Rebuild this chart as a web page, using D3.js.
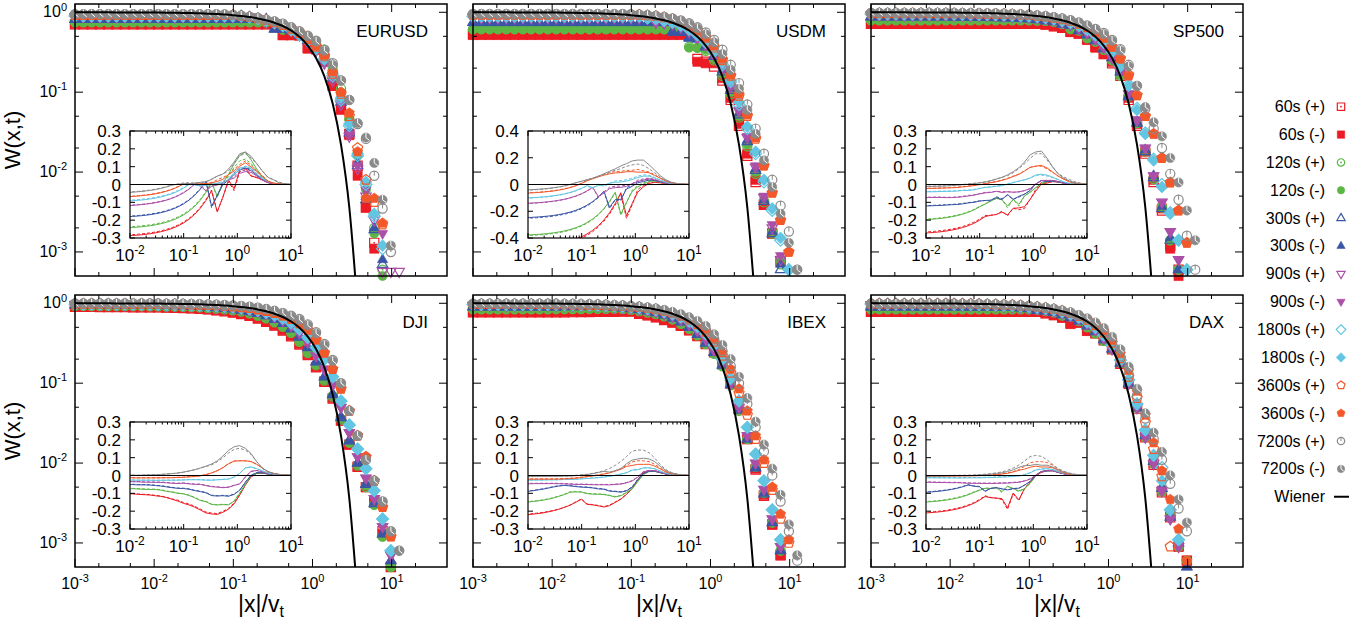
<!DOCTYPE html>
<html>
<head>
<meta charset="utf-8">
<script src="https://cdn.jsdelivr.net/npm/d3@7"></script>
<style>
body { margin: 0; background: #fff; }
svg { font-family: "Liberation Sans", Arial, Helvetica, sans-serif; }
</style>
</head>
<body>
<svg width="1365" height="627"></svg>
<script>
// x positions of the bins (|x|/v_t), shared by every series
var gridX = [0.001,0.001274,0.001622,0.002065,0.00263,0.00335,0.004266,0.00543,0.00692,0.00881,
  0.01122,0.01429,0.0182,0.02317,0.02951,0.03758,0.04786,0.06095,0.07762,0.09886,
  0.1259,0.1603,0.2042,0.26,0.3311,0.4217,0.537,0.6839,0.871,1.109,
  1.413,1.799,2.291,2.917,3.715,4.732,6.026,7.674,9.772,12.45];

// Wiener curve read at the same x positions
var wiener = [.9992,.999,.9987,.9984,.9979,.9973,.9966,.9957,.9945,.993,
  .991,.9886,.9855,.9815,.9765,.97,.9618,.9514,.9381,.9212,
  .8998,.8727,.8382,.7949,.7406,.6732,.5913,.4942,.3838,.2674,
  .1576,.072,.022,.0036,.0002];

var seriesLabels = ['60s (+)','60s (-)','120s (+)','120s (-)','300s (+)','300s (-)','900s (+)','900s (-)',
  '1800s (+)','1800s (-)','3600s (+)','3600s (-)','7200s (+)','7200s (-)'];
var seriesColors = ['#ed1c24','#5cb646','#3a55a5','#ab4fa8','#62c6e2','#f3582a','#8a8a8a'];
var panelNames = ['EURUSD','USDM','SP500','DJI','IBEX','DAX'];
var insetYMax = [0.3,0.4,0.3,0.3,0.3,0.3];
var insetYStep = [0.1,0.2,0.1,0.1,0.1,0.1];
var xTickExps = [-3,-2,-1,0,1];
var yTickExps = [0,-1,-2,-3];
var insetXExps = [-2,-1,0,1];

// W(x,t), one row per series in legend order
var EURUSD = [
  [.705,.705,.705,.705,.705,.705,.705,.705,.705,.705,.705,.705,.705,.705,.705,.705,.705,.705,.705,.705,.705,.705,.705,.705,.705,.52,.52,.52,.36,.35,.25,.12,.062,.03,.012,.0036,.0013],
  [.71,.71,.71,.71,.71,.71,.71,.71,.71,.71,.71,.71,.71,.71,.71,.71,.71,.71,.71,.71,.71,.71,.71,.71,.71,.52,.52,.51,.35,.34,.24,.12,.06,.029,.009,.0036,.0011],
  [.75,.75,.75,.75,.75,.75,.75,.75,.75,.75,.75,.75,.75,.75,.75,.75,.75,.75,.75,.75,.75,.75,.75,.75,.75,.61,.60,.55,.50,.43,.34,.21,.11,.046,.017,.0065,.002,.0006],
  [.755,.755,.755,.755,.755,.755,.755,.755,.755,.755,.755,.755,.755,.755,.755,.755,.755,.755,.755,.755,.755,.755,.755,.755,.755,.60,.60,.54,.48,.40,.30,.19,.10,.045,.016,.006,.0017,.0005],
  [.812,.812,.812,.812,.812,.812,.812,.812,.812,.812,.812,.812,.812,.812,.812,.812,.812,.812,.812,.812,.812,.812,.812,.812,.62,.61,.59,.52,.44,.35,.25,.15,.075,.031,.012,.0045,.0019,.0007],
  [.815,.815,.815,.815,.815,.815,.815,.815,.815,.815,.815,.815,.815,.815,.815,.815,.815,.815,.815,.815,.815,.815,.815,.815,.61,.61,.60,.52,.45,.36,.25,.16,.08,.033,.013,.0049,.002,.0008],
  [.874,.874,.874,.874,.874,.874,.874,.874,.874,.874,.874,.874,.874,.874,.874,.874,.874,.874,.874,.874,.874,.874,.83,.76,.73,.67,.60,.52,.42,.33,.23,.14,.07,.028,.011,.005,.0025,.00057,.00057,.00057],
  [.876,.876,.876,.876,.876,.876,.876,.876,.876,.876,.876,.876,.876,.876,.876,.876,.876,.876,.876,.876,.876,.876,.84,.76,.74,.68,.60,.52,.43,.34,.24,.15,.075,.03,.012,.006,.0029,.0017],
  [.90,.90,.90,.90,.90,.90,.90,.90,.90,.90,.90,.90,.90,.90,.90,.90,.90,.90,.90,.90,.90,.87,.83,.79,.74,.68,.60,.52,.44,.35,.26,.16,.08,.038,.016,.007,.0028,.0011],
  [.904,.904,.904,.904,.904,.904,.904,.904,.904,.904,.904,.904,.904,.904,.904,.904,.904,.904,.904,.904,.904,.875,.84,.80,.745,.68,.61,.53,.45,.36,.26,.17,.085,.04,.017,.0075,.003,.0012],
  [.924,.924,.924,.924,.924,.924,.924,.924,.924,.924,.924,.924,.924,.924,.924,.924,.924,.924,.924,.924,.90,.875,.84,.80,.75,.69,.62,.55,.46,.37,.28,.17,.095,.05,.02,.008,.0042,.0022],
  [.926,.926,.926,.926,.926,.926,.926,.926,.926,.926,.926,.926,.926,.926,.926,.926,.926,.926,.926,.926,.905,.88,.845,.80,.75,.70,.63,.55,.47,.38,.29,.18,.10,.055,.018,.0047,.0047,.0023],
  [.948,.948,.948,.948,.948,.948,.948,.948,.948,.948,.948,.948,.948,.948,.948,.948,.948,.948,.94,.925,.905,.88,.85,.81,.77,.72,.65,.58,.51,.44,.34,.23,.14,.08,.04,.026,.009,.0035,.001],
  [.95,.95,.95,.95,.95,.95,.95,.95,.95,.95,.95,.95,.95,.95,.95,.95,.95,.95,.94,.93,.91,.88,.85,.81,.77,.72,.65,.57,.50,.43,.33,.22,.14,.08,.041,.027,.013,.0045,.0012]
];

var USDM = [
  [.53,.53,.53,.53,.53,.53,.53,.53,.53,.53,.53,.53,.53,.53,.53,.53,.53,.53,.53,.53,.53,.53,.53,.53,.53,.53,.53,.26,.24,.21,.14,.08,.038,.016,.0075,.0039,.0017,.00077],
  [.52,.52,.52,.52,.52,.52,.52,.52,.52,.52,.52,.52,.52,.52,.52,.52,.52,.52,.52,.52,.52,.52,.52,.52,.52,.52,.52,.24,.23,.23,.15,.085,.04,.017,.008,.0039,.0017,.00077],
  [.615,.615,.615,.615,.615,.615,.615,.615,.615,.615,.615,.615,.615,.615,.615,.615,.615,.615,.615,.615,.615,.615,.615,.615,.615,.615,.37,.36,.33,.25,.16,.095,.048,.021,.0095,.0042,.0017,.0007],
  [.61,.61,.61,.61,.61,.61,.61,.61,.61,.61,.61,.61,.61,.61,.61,.61,.61,.61,.61,.61,.61,.61,.61,.61,.61,.61,.36,.36,.34,.26,.17,.10,.05,.022,.010,.0045,.0018,.0008],
  [.745,.745,.745,.745,.745,.745,.745,.745,.745,.745,.745,.745,.745,.745,.745,.745,.745,.745,.745,.745,.745,.745,.745,.745,.57,.56,.48,.46,.37,.28,.18,.105,.052,.024,.0105,.0043,.0017,.0006],
  [.74,.74,.74,.74,.74,.74,.74,.74,.74,.74,.74,.74,.74,.74,.74,.74,.74,.74,.74,.74,.74,.74,.74,.74,.56,.56,.47,.47,.38,.29,.19,.11,.055,.025,.011,.0045,.0018,.0007],
  [.852,.852,.852,.852,.852,.852,.852,.852,.852,.852,.852,.852,.852,.852,.852,.852,.852,.852,.852,.852,.852,.852,.75,.73,.71,.65,.57,.48,.39,.29,.19,.115,.058,.027,.0115,.0048,.002,.0008],
  [.85,.85,.85,.85,.85,.85,.85,.85,.85,.85,.85,.85,.85,.85,.85,.85,.85,.85,.85,.85,.85,.85,.74,.74,.72,.66,.58,.49,.39,.30,.20,.12,.06,.028,.012,.005,.0022,.0009],
  [.892,.892,.892,.892,.892,.892,.892,.892,.892,.892,.892,.892,.892,.892,.892,.892,.892,.892,.892,.892,.892,.85,.83,.79,.75,.69,.61,.52,.42,.32,.22,.135,.07,.035,.017,.0075,.0033,.0014,.0006],
  [.89,.89,.89,.89,.89,.89,.89,.89,.89,.89,.89,.89,.89,.89,.89,.89,.89,.89,.89,.89,.89,.84,.84,.78,.75,.70,.62,.53,.43,.33,.23,.14,.075,.037,.018,.008,.0035,.0015,.0006],
  [.928,.928,.928,.928,.928,.928,.928,.928,.928,.928,.928,.928,.928,.928,.928,.928,.928,.928,.928,.928,.928,.915,.895,.865,.82,.76,.68,.59,.48,.36,.25,.16,.09,.05,.026,.012,.0055,.0025,.001],
  [.93,.93,.93,.93,.93,.93,.93,.93,.93,.93,.93,.93,.93,.93,.93,.93,.93,.93,.93,.93,.93,.92,.90,.87,.83,.77,.69,.60,.49,.38,.26,.165,.095,.052,.027,.012,.0055,.0025,.001],
  [.952,.952,.952,.952,.952,.952,.952,.952,.952,.952,.952,.952,.952,.952,.952,.952,.952,.952,.952,.945,.935,.92,.90,.875,.84,.79,.73,.65,.56,.45,.34,.22,.13,.07,.035,.017,.008,.0038,.0018,.0006],
  [.95,.95,.95,.95,.95,.95,.95,.95,.95,.95,.95,.95,.95,.95,.95,.95,.95,.95,.95,.945,.935,.92,.90,.87,.83,.78,.71,.63,.53,.42,.30,.19,.11,.06,.03,.014,.0065,.003,.0013,.0006]
];

var SP500 = [
  [.72,.72,.72,.72,.72,.72,.72,.72,.72,.72,.72,.72,.72,.72,.72,.72,.72,.72,.72,.72,.72,.70,.67,.64,.57,.54,.46,.37,.30,.23,.16,.08,.038,.017,.0075,.0033,.0012,.0006],
  [.726,.726,.726,.726,.726,.726,.726,.726,.726,.726,.726,.726,.726,.726,.726,.726,.726,.726,.726,.726,.726,.70,.67,.645,.565,.54,.45,.36,.30,.24,.17,.085,.04,.018,.008,.0035,.0011,.0005],
  [.795,.795,.795,.795,.795,.795,.795,.795,.795,.795,.795,.795,.795,.795,.795,.795,.795,.795,.795,.795,.79,.78,.76,.71,.62,.59,.48,.43,.34,.25,.16,.088,.041,.018,.0082,.0036,.0014,.0006],
  [.798,.798,.798,.798,.798,.798,.798,.798,.798,.798,.798,.798,.798,.798,.798,.798,.798,.798,.798,.798,.79,.78,.76,.71,.61,.59,.47,.43,.34,.25,.165,.09,.042,.019,.0085,.0037,.0014,.0006],
  [.873,.873,.873,.873,.873,.873,.873,.873,.873,.873,.871,.87,.868,.866,.863,.858,.853,.848,.838,.828,.81,.785,.765,.71,.685,.59,.525,.44,.35,.27,.18,.088,.041,.018,.0085,.0035,.0014,.0006],
  [.875,.875,.875,.875,.875,.875,.875,.875,.875,.875,.873,.872,.87,.868,.865,.86,.855,.85,.84,.83,.81,.78,.77,.715,.68,.59,.52,.44,.35,.27,.18,.09,.042,.019,.009,.0037,.0015,.0006],
  [.918,.918,.918,.918,.918,.918,.918,.918,.918,.918,.918,.916,.913,.908,.903,.898,.893,.887,.878,.868,.853,.828,.80,.75,.70,.63,.55,.46,.36,.27,.18,.095,.045,.02,.009,.0042,.0018,.0008],
  [.92,.92,.92,.92,.92,.92,.92,.92,.92,.92,.92,.918,.915,.91,.905,.90,.895,.89,.88,.87,.855,.83,.80,.755,.70,.63,.55,.46,.36,.27,.18,.095,.045,.02,.009,.0042,.0018,.0008],
  [.952,.952,.952,.952,.952,.952,.952,.952,.952,.952,.95,.948,.946,.943,.938,.933,.928,.918,.908,.898,.883,.858,.828,.788,.743,.683,.61,.52,.42,.32,.215,.125,.063,.031,.0145,.007,.0031,.0014,.0006],
  [.955,.955,.955,.955,.955,.955,.955,.955,.955,.955,.952,.95,.948,.945,.94,.935,.93,.92,.91,.90,.885,.86,.83,.79,.745,.685,.61,.52,.42,.32,.21,.12,.06,.03,.014,.0065,.003,.0014,.0006],
  [.972,.972,.972,.972,.972,.972,.972,.972,.972,.972,.969,.967,.965,.962,.958,.953,.948,.941,.932,.92,.903,.883,.853,.818,.773,.718,.648,.57,.48,.37,.265,.165,.092,.05,.03,.015,.0074,.0033,.0013],
  [.975,.975,.975,.975,.975,.975,.975,.975,.975,.975,.97,.968,.966,.963,.96,.955,.95,.943,.934,.922,.905,.885,.855,.82,.775,.72,.65,.57,.48,.37,.26,.16,.09,.05,.03,.015,.0074,.0033,.0013],
  [.983,.983,.983,.983,.983,.983,.983,.983,.983,.983,.98,.978,.976,.973,.97,.966,.96,.953,.943,.93,.913,.893,.868,.835,.795,.745,.685,.62,.55,.45,.345,.22,.12,.062,.035,.02,.0095,.0045,.0016,.0006],
  [.985,.985,.985,.985,.985,.985,.985,.985,.985,.985,.982,.98,.978,.975,.972,.968,.962,.955,.945,.932,.915,.895,.87,.835,.79,.74,.68,.61,.53,.44,.33,.21,.12,.065,.042,.028,.015,.0074,.0033,.0014]
];

var DJI = [
  [.905,.905,.902,.90,.90,.898,.896,.894,.892,.89,.888,.883,.878,.872,.863,.853,.838,.818,.795,.765,.735,.695,.645,.585,.525,.455,.385,.305,.225,.158,.104,.064,.034,.017,.009,.005,.0032,.0014,.0005],
  [.91,.91,.905,.905,.90,.90,.90,.895,.895,.89,.89,.885,.88,.875,.865,.855,.84,.82,.80,.77,.74,.70,.65,.59,.53,.46,.39,.31,.23,.16,.105,.065,.034,.017,.009,.005,.0033,.0013,.0005],
  [.928,.927,.926,.925,.924,.923,.922,.921,.92,.918,.917,.913,.908,.903,.898,.888,.873,.858,.838,.818,.788,.748,.698,.648,.578,.508,.428,.33,.24,.168,.108,.068,.035,.018,.0093,.005,.003,.0012,.0005],
  [.93,.929,.928,.927,.926,.925,.924,.923,.922,.92,.919,.915,.91,.905,.90,.89,.875,.86,.84,.82,.79,.75,.70,.65,.58,.51,.43,.33,.24,.17,.11,.07,.036,.018,.0095,.0052,.003,.0012,.0005],
  [.953,.953,.952,.951,.95,.949,.948,.946,.944,.942,.94,.936,.933,.928,.92,.911,.898,.883,.866,.848,.823,.788,.748,.698,.628,.558,.478,.378,.278,.185,.12,.072,.037,.019,.01,.0054,.0031,.0013,.0006],
  [.955,.955,.954,.953,.952,.951,.95,.948,.946,.944,.942,.938,.935,.93,.922,.913,.90,.885,.868,.85,.825,.79,.75,.70,.63,.56,.48,.38,.28,.185,.12,.073,.038,.019,.01,.0055,.0032,.0013,.0006],
  [.968,.968,.968,.968,.968,.967,.966,.965,.963,.96,.956,.953,.948,.944,.938,.931,.921,.908,.893,.878,.853,.823,.788,.738,.678,.608,.523,.428,.328,.22,.15,.095,.05,.024,.012,.0065,.0036,.0016,.0007],
  [.97,.97,.97,.97,.97,.969,.968,.967,.965,.962,.958,.955,.95,.946,.94,.933,.923,.91,.895,.88,.855,.825,.79,.74,.68,.61,.525,.43,.33,.22,.15,.095,.05,.024,.012,.0065,.0036,.0016,.0007],
  [.974,.974,.974,.974,.974,.973,.972,.971,.969,.967,.965,.962,.959,.955,.949,.943,.935,.925,.912,.896,.876,.849,.814,.769,.714,.649,.569,.474,.375,.28,.2,.12,.06,.03,.015,.0085,.0045,.002,.0008],
  [.975,.975,.975,.975,.975,.974,.973,.972,.97,.968,.966,.963,.96,.956,.95,.944,.936,.926,.913,.897,.877,.85,.815,.77,.715,.65,.57,.475,.375,.28,.2,.12,.06,.03,.015,.0085,.0045,.002,.0008],
  [.987,.987,.987,.987,.987,.986,.985,.984,.983,.981,.978,.975,.972,.968,.963,.957,.949,.939,.927,.911,.892,.867,.836,.80,.755,.70,.635,.56,.465,.35,.24,.15,.085,.045,.022,.012,.006,.0028,.0012],
  [.988,.988,.988,.988,.988,.987,.986,.985,.984,.982,.979,.976,.973,.969,.964,.958,.95,.94,.928,.912,.893,.868,.837,.80,.755,.70,.635,.56,.465,.35,.24,.15,.085,.045,.022,.012,.006,.0028,.0012],
  [.999,.999,.999,.999,.999,.999,.999,.999,.999,.995,.993,.99,.988,.985,.981,.976,.97,.962,.952,.94,.925,.905,.88,.847,.805,.755,.70,.635,.545,.435,.31,.195,.10,.045,.022,.011,.006,.0033,.0014,.0008],
  [.999,.999,.999,.999,.999,.999,.999,.999,.999,.995,.993,.99,.988,.985,.981,.976,.97,.962,.952,.94,.925,.905,.88,.845,.80,.75,.69,.62,.53,.42,.30,.19,.10,.045,.022,.011,.006,.0033,.0014,.0008]
];

var IBEX = [
  [.772,.772,.772,.772,.772,.772,.772,.772,.772,.772,.773,.774,.775,.777,.779,.781,.783,.785,.788,.788,.738,.708,.668,.618,.572,.522,.458,.388,.308,.243,.172,.098,.047,.02,.0083,.0039,.0017,.0007],
  [.776,.776,.776,.776,.776,.776,.776,.776,.776,.776,.776,.777,.778,.779,.78,.782,.784,.786,.79,.79,.74,.71,.67,.62,.575,.525,.46,.39,.31,.245,.175,.10,.048,.02,.0085,.004,.0017,.0007],
  [.843,.843,.843,.843,.843,.843,.843,.843,.843,.843,.844,.845,.846,.848,.85,.853,.855,.858,.846,.828,.798,.768,.733,.688,.628,.553,.478,.398,.308,.233,.163,.094,.045,.02,.009,.0042,.0018,.0008],
  [.846,.846,.846,.846,.846,.846,.846,.846,.846,.846,.846,.847,.848,.85,.852,.855,.857,.86,.848,.83,.80,.77,.735,.69,.63,.555,.48,.40,.31,.235,.165,.095,.046,.02,.009,.0042,.0018,.0008],
  [.903,.903,.903,.903,.903,.903,.903,.903,.903,.903,.904,.906,.908,.91,.912,.911,.906,.893,.876,.856,.833,.803,.763,.718,.653,.583,.498,.408,.318,.243,.168,.096,.046,.02,.0087,.0041,.0018,.0008],
  [.905,.905,.905,.905,.905,.905,.905,.905,.905,.905,.906,.908,.91,.912,.914,.913,.908,.895,.878,.858,.835,.805,.765,.72,.655,.585,.50,.41,.32,.245,.17,.097,.047,.02,.0088,.0042,.0018,.0008],
  [.946,.946,.946,.946,.946,.946,.946,.946,.946,.946,.945,.943,.94,.936,.931,.924,.915,.903,.888,.871,.849,.821,.786,.743,.688,.623,.543,.453,.353,.258,.178,.099,.05,.022,.01,.0047,.002,.0009],
  [.948,.948,.948,.948,.948,.948,.948,.948,.948,.948,.947,.945,.942,.938,.933,.926,.917,.905,.89,.873,.851,.823,.788,.745,.69,.625,.545,.455,.355,.26,.18,.10,.05,.022,.01,.0047,.002,.0009],
  [.967,.967,.967,.967,.967,.967,.967,.967,.967,.967,.965,.963,.96,.957,.952,.946,.939,.929,.917,.902,.883,.858,.826,.786,.736,.674,.599,.509,.414,.30,.2,.115,.06,.028,.013,.006,.0026,.0011],
  [.968,.968,.968,.968,.968,.968,.968,.968,.968,.968,.966,.964,.961,.958,.953,.947,.94,.93,.918,.903,.884,.859,.827,.787,.737,.675,.60,.51,.415,.30,.2,.115,.06,.028,.013,.006,.0026,.0011],
  [.973,.973,.973,.973,.973,.973,.973,.973,.973,.973,.97,.968,.965,.961,.956,.95,.943,.934,.923,.91,.893,.87,.84,.803,.755,.698,.626,.545,.44,.33,.22,.135,.075,.04,.02,.01,.0046,.002,.001],
  [.975,.975,.975,.975,.975,.975,.975,.975,.975,.975,.972,.97,.967,.963,.958,.952,.945,.936,.925,.912,.895,.872,.842,.805,.757,.70,.63,.55,.46,.35,.24,.15,.085,.045,.022,.011,.005,.0023,.0011],
  [.986,.986,.986,.986,.986,.986,.986,.986,.986,.986,.985,.983,.98,.976,.971,.965,.958,.948,.937,.923,.905,.883,.855,.818,.76,.70,.63,.56,.47,.36,.255,.165,.10,.055,.028,.014,.007,.0033,.0014,.0006],
  [.988,.988,.988,.988,.988,.988,.988,.988,.988,.988,.987,.985,.982,.978,.973,.967,.96,.95,.939,.925,.907,.885,.857,.822,.78,.73,.67,.60,.52,.41,.30,.20,.12,.065,.033,.017,.0085,.004,.0017,.0007]
];

var DAX = [
  [.782,.782,.782,.782,.782,.782,.782,.782,.782,.782,.782,.782,.782,.782,.782,.782,.782,.782,.782,.782,.782,.748,.712,.665,.56,.575,.455,.42,.345,.265,.175,.098,.048,.021,.0095,.0043,.0021,.0009,.0006],
  [.786,.786,.786,.786,.786,.786,.786,.786,.786,.786,.786,.786,.786,.786,.786,.786,.786,.786,.786,.786,.786,.75,.71,.66,.55,.57,.45,.42,.35,.27,.18,.10,.05,.022,.01,.0045,.0022,.0009,.0006],
  [.843,.843,.843,.843,.843,.843,.843,.843,.843,.843,.843,.843,.843,.843,.843,.843,.843,.843,.843,.838,.828,.80,.77,.705,.68,.60,.505,.42,.34,.265,.178,.098,.049,.021,.0098,.0044,.0021,.0009,.0006],
  [.846,.846,.846,.846,.846,.846,.846,.846,.846,.846,.846,.846,.846,.846,.846,.846,.846,.846,.846,.84,.83,.80,.77,.70,.68,.60,.50,.42,.34,.27,.18,.10,.05,.022,.01,.0045,.0022,.0009,.0006],
  [.898,.898,.898,.898,.898,.898,.898,.898,.898,.898,.898,.898,.898,.898,.898,.898,.898,.898,.878,.858,.812,.80,.77,.72,.66,.60,.52,.44,.35,.268,.178,.098,.049,.022,.0105,.0048,.0021,.001,.0005],
  [.90,.90,.90,.90,.90,.90,.90,.90,.90,.90,.90,.90,.90,.90,.90,.90,.90,.90,.88,.86,.81,.80,.77,.72,.66,.60,.52,.44,.35,.27,.18,.10,.05,.023,.011,.005,.0022,.001,.0005],
  [.955,.955,.955,.955,.955,.955,.955,.955,.955,.955,.953,.95,.946,.942,.936,.93,.92,.908,.894,.877,.855,.828,.794,.752,.698,.633,.553,.463,.363,.268,.178,.099,.049,.021,.0098,.0045,.002,.0009],
  [.957,.957,.957,.957,.957,.957,.957,.957,.957,.957,.955,.952,.948,.944,.938,.932,.922,.91,.896,.879,.857,.83,.796,.754,.70,.635,.555,.465,.365,.27,.18,.10,.05,.022,.01,.0046,.002,.0009],
  [.98,.98,.98,.98,.98,.98,.98,.98,.98,.98,.978,.975,.972,.968,.963,.956,.948,.938,.925,.908,.888,.861,.828,.786,.733,.668,.588,.498,.398,.298,.193,.11,.055,.026,.0125,.0088,.0026,.0011],
  [.982,.982,.982,.982,.982,.982,.982,.982,.982,.982,.98,.977,.974,.97,.965,.958,.95,.94,.927,.91,.89,.863,.83,.788,.735,.67,.59,.50,.40,.30,.195,.11,.055,.026,.0125,.006,.0026,.0011],
  [.987,.987,.987,.987,.987,.987,.987,.987,.987,.987,.986,.984,.981,.978,.973,.967,.959,.949,.936,.92,.90,.875,.843,.803,.753,.693,.62,.53,.43,.32,.205,.12,.065,.032,.015,.0068,.0009],
  [.989,.989,.989,.989,.989,.989,.989,.989,.989,.989,.988,.986,.983,.98,.975,.969,.961,.951,.938,.922,.902,.877,.845,.805,.755,.695,.625,.545,.455,.345,.235,.145,.08,.04,.018,.008,.0035,.0015,.0006],
  [.988,.988,.988,.988,.988,.988,.988,.988,.988,.988,.987,.985,.982,.979,.975,.969,.961,.951,.939,.924,.905,.88,.85,.81,.763,.705,.637,.55,.44,.33,.215,.13,.07,.036,.02,.011,.0055,.0027,.0014],
  [.99,.99,.99,.99,.99,.99,.99,.99,.99,.99,.989,.987,.984,.981,.977,.971,.963,.953,.941,.926,.907,.883,.853,.815,.77,.715,.65,.575,.49,.38,.265,.16,.085,.042,.024,.0138,.007,.0035,.0018]
];

var panels = [EURUSD, USDM, SP500, DJI, IBEX, DAX];

var svg = d3.select('svg');

var panelLefts = [75, 473, 871];
var panelTops = [4, 295];
var panelW = 372, panelH = 272;
var inset = {dx: 55, dy: 127, w: 161, h: 107};

var xScale = d3.scaleLog().domain([1e-3, 50]).range([0, panelW]);
var yScale = d3.scaleLog().domain([5e-4, 1.27]).range([panelH, 0]);
var xInset = d3.scaleLog().domain([1e-2, 10]).range([0, inset.w]);

var markerKinds = ['square', 'circle', 'triUp', 'triDown', 'diamond', 'pentagon', 'circle'];

function markerPath(kind, r) {
  if (kind == 'square') return 'M' + (-r) + ',' + (-r) + 'H' + r + 'V' + r + 'H' + (-r) + 'Z';
  if (kind == 'circle') return 'M' + r + ',0A' + r + ',' + r + ' 0 1,1 ' + (-r) + ',0A' + r + ',' + r + ' 0 1,1 ' + r + ',0Z';
  if (kind == 'triUp' || kind == 'triDown') {
    var h = r * 1.3, s = kind == 'triUp' ? 1 : -1;
    return 'M0,' + (-h * s) + 'L' + (h * 0.866) + ',' + (h * 0.5 * s) + 'L' + (-h * 0.866) + ',' + (h * 0.5 * s) + 'Z';
  }
  if (kind == 'diamond') {
    var d = r * 1.3;
    return 'M0,' + (-d) + 'L' + d + ',0L0,' + d + 'L' + (-d) + ',0Z';
  }
  // pentagon
  var pts = d3.range(5).map(function(i) {
    var a = -Math.PI / 2 + i * 2 * Math.PI / 5;
    return [r * 1.15 * Math.cos(a), r * 1.15 * Math.sin(a)];
  });
  return 'M' + pts.map(function(p) { return p.join(','); }).join('L') + 'Z';
}

function drawMarker(sel, t, filled, scale) {
  var r = 4.6 * scale;
  var c = seriesColors[t];
  sel.append('path')
    .attr('d', markerPath(markerKinds[t], r))
    .attr('fill', filled ? c : 'none')
    .attr('stroke', c)
    .attr('stroke-width', filled ? 0.6 : 1.2);
  if (!filled && t < 2) {
    sel.append('circle').attr('r', 0.9).attr('fill', c);
  }
  if (t == 6) {
    sel.append('line').attr('x1', 0).attr('y1', 0).attr('x2', 0).attr('y2', -r)
      .attr('stroke', filled ? '#fff' : c).attr('stroke-width', 1);
    if (filled) {
      sel.append('line').attr('x1', 0).attr('y1', 0).attr('x2', r * 0.75).attr('y2', r * 0.6)
        .attr('stroke', '#fff').attr('stroke-width', 1);
    }
  }
}

function powLabel(sel, exp, base, sup) {
  sel.append('tspan').attr('font-size', base).text('10');
  sel.append('tspan').attr('font-size', sup).attr('dy', -base * 0.42).text(exp);
}

var defs = svg.append('defs');
defs.append('clipPath').attr('id', 'clipMain')
  .append('rect').attr('width', panelW).attr('height', panelH);
defs.append('clipPath').attr('id', 'clipInset')
  .append('rect').attr('width', inset.w).attr('height', inset.h);

var wienerLine = d3.line()
  .x(function(d, k) { return xScale(gridX[k]); })
  .y(function(d) { return yScale(d); })
  .curve(d3.curveMonotoneX);

panels.forEach(function(data, p) {
  var col = p % 3, row = Math.floor(p / 3);
  var g = svg.append('g')
    .attr('transform', 'translate(' + [panelLefts[col], panelTops[row]] + ')');

  // data points
  data.forEach(function(vals, s) {
    var t = Math.floor(s / 2), filled = s % 2 == 1;
    var pts = vals.map(function(v, k) { return {x: gridX[k], y: v}; });
    g.append('g').selectAll('g')
      .data(pts)
      .enter()
      .append('g')
      .attr('transform', function(d) { return 'translate(' + xScale(d.x) + ',' + yScale(d.y) + ')'; })
      .each(function() { drawMarker(d3.select(this), t, filled, 1); });
  });

  // Wiener curve
  g.append('path')
    .attr('clip-path', 'url(#clipMain)')
    .attr('d', wienerLine(wiener))
    .attr('fill', 'none')
    .attr('stroke', '#000')
    .attr('stroke-width', 2);

  // frame and ticks
  g.append('rect').attr('width', panelW).attr('height', panelH)
    .attr('fill', 'none').attr('stroke', '#000').attr('stroke-width', 1.5);

  var xMajor = xTickExps.map(function(e) { return Math.pow(10, e); });
  var xMinor = [];
  xTickExps.forEach(function(e) { [2, 5].forEach(function(m) { if (m * Math.pow(10, e) < 50) xMinor.push(m * Math.pow(10, e)); }); });
  var yMajor = yTickExps.map(function(e) { return Math.pow(10, e); });
  var yMinor = [];
  yTickExps.forEach(function(e) { [0.5, 0.2].forEach(function(m) { if (m * Math.pow(10, e) > 5e-4) yMinor.push(m * Math.pow(10, e)); }); });

  var ticks = g.append('g').attr('stroke', '#000').attr('stroke-width', 1);
  function xTicks(vals, len) {
    vals.forEach(function(v) {
      var px = xScale(v);
      ticks.append('line').attr('x1', px).attr('x2', px).attr('y1', panelH).attr('y2', panelH - len);
      ticks.append('line').attr('x1', px).attr('x2', px).attr('y1', 0).attr('y2', len);
    });
  }
  function yTicks(vals, len) {
    vals.forEach(function(v) {
      var py = yScale(v);
      ticks.append('line').attr('x1', 0).attr('x2', len).attr('y1', py).attr('y2', py);
      ticks.append('line').attr('x1', panelW).attr('x2', panelW - len).attr('y1', py).attr('y2', py);
    });
  }
  xTicks(xMajor, 8); xTicks(xMinor, 4);
  yTicks(yMajor, 8); yTicks(yMinor, 4);

  if (col == 0) {
    yTickExps.forEach(function(e) {
      var t = g.append('text').attr('x', -8).attr('y', yScale(Math.pow(10, e)) + 5)
        .attr('text-anchor', 'end');
      powLabel(t, e, 16, 11);
    });
    g.append('text')
      .attr('transform', 'translate(-55,' + (panelH / 2) + ') rotate(-90)')
      .attr('text-anchor', 'middle')
      .attr('font-size', 22)
      .text('W(x,t)');
  }
  if (row == 1) {
    xTickExps.forEach(function(e) {
      var t = g.append('text').attr('x', xScale(Math.pow(10, e))).attr('y', panelH + 22)
        .attr('text-anchor', 'middle');
      powLabel(t, e, 16, 11);
    });
    var xt = g.append('text').attr('x', panelW / 2).attr('y', panelH + 45)
      .attr('text-anchor', 'middle').attr('font-size', 23);
    xt.append('tspan').text('|x|/v');
    xt.append('tspan').attr('font-size', 16).attr('dy', 5).text('t');
  }

  g.append('text')
    .attr('x', 353).attr('y', 33)
    .attr('text-anchor', 'end')
    .attr('font-size', 17)
    .text(panelNames[p]);

  // inset: difference from the Wiener curve
  var ymax = insetYMax[p];
  var yInset = d3.scaleLinear().domain([-ymax, ymax]).range([inset.h, 0]);
  var ig = g.append('g').attr('transform', 'translate(' + [inset.dx, inset.dy] + ')');
  ig.append('rect').attr('width', inset.w).attr('height', inset.h).attr('fill', '#fff');

  var lines = ig.append('g').attr('clip-path', 'url(#clipInset)');
  var diffLine = d3.line()
    .x(function(d) { return xInset(d.x); })
    .y(function(d) { return yInset(d.y); });
  data.forEach(function(vals, s) {
    var t = Math.floor(s / 2);
    var pts = d3.range(9, 40).map(function(k) {
      return {x: gridX[k], y: (vals[k] || 0) - (wiener[k] || 0)};
    });
    lines.append('path')
      .attr('d', diffLine(pts))
      .attr('fill', 'none')
      .attr('stroke', seriesColors[t])
      .attr('stroke-width', 1)
      .attr('stroke-dasharray', s % 2 == 1 ? '3,2' : null);
  });
  ig.append('line').attr('x1', 0).attr('x2', inset.w).attr('y1', yInset(0)).attr('y2', yInset(0))
    .attr('stroke', '#000').attr('stroke-width', 1.2);
  ig.append('rect').attr('width', inset.w).attr('height', inset.h)
    .attr('fill', 'none').attr('stroke', '#000').attr('stroke-width', 1.2);

  var iticks = ig.append('g').attr('stroke', '#000').attr('stroke-width', 1);
  insetXExps.forEach(function(e) {
    d3.range(1, 10).forEach(function(m) {
      var v = m * Math.pow(10, e);
      if (v > 10) return;
      var px = xInset(v), len = m == 1 ? 5 : 2.5;
      iticks.append('line').attr('x1', px).attr('x2', px).attr('y1', inset.h).attr('y2', inset.h - len);
      iticks.append('line').attr('x1', px).attr('x2', px).attr('y1', 0).attr('y2', len);
    });
    var t = ig.append('text').attr('x', xInset(Math.pow(10, e))).attr('y', inset.h + 23)
      .attr('text-anchor', 'middle');
    powLabel(t, e, 17, 12);
  });
  var yt = d3.range(-ymax, ymax + 1e-9, insetYStep[p]).map(function(v) { return Math.round(v * 10) / 10; });
  yt.forEach(function(v) {
    var py = yInset(v);
    iticks.append('line').attr('x1', 0).attr('x2', 5).attr('y1', py).attr('y2', py);
    iticks.append('line').attr('x1', inset.w).attr('x2', inset.w - 5).attr('y1', py).attr('y2', py);
    ig.append('text').attr('x', -9).attr('y', py + 6)
      .attr('text-anchor', 'end').attr('font-size', 17)
      .text(String(v));
  });
});

// legend
var legend = svg.append('g').attr('transform', 'translate(0,106.7)');
seriesLabels.forEach(function(label, s) {
  var yy = s * 27.86;
  legend.append('text').attr('x', 1325).attr('y', yy + 5.5)
    .attr('text-anchor', 'end').attr('font-size', 16).text(label);
  var m = legend.append('g').attr('transform', 'translate(1341,' + yy + ')');
  drawMarker(m, Math.floor(s / 2), s % 2 == 1, 0.8);
});
var wy = 14 * 27.86;
legend.append('text').attr('x', 1325).attr('y', wy + 5.5)
  .attr('text-anchor', 'end').attr('font-size', 16).text('Wiener');
legend.append('line').attr('x1', 1334).attr('x2', 1349).attr('y1', wy).attr('y2', wy)
  .attr('stroke', '#000').attr('stroke-width', 2);
</script>
</body>
</html>
